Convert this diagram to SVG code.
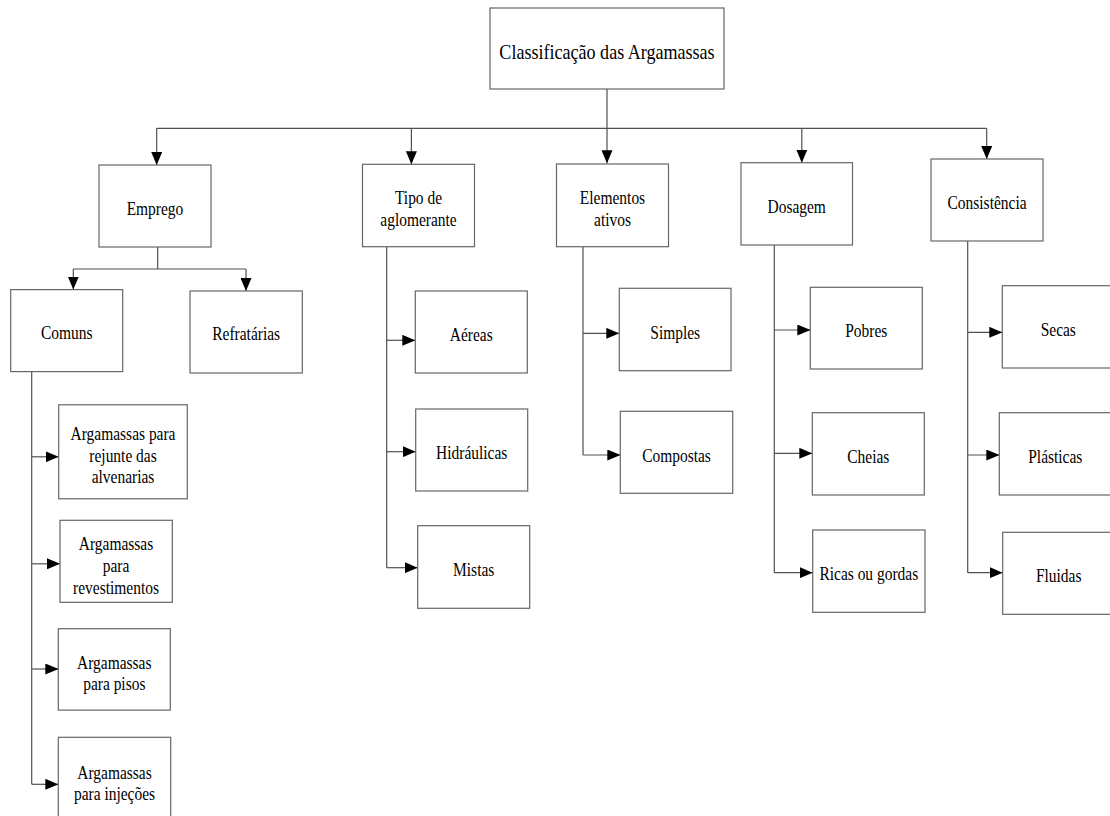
<svg xmlns="http://www.w3.org/2000/svg" width="1110" height="816" viewBox="0 0 1110 816">
  <style>
    .box { fill: #ffffff; stroke: #666666; stroke-width: 1.2; }
    .ln { fill: none; stroke: #505050; stroke-width: 1.2; }
    .t { font-family: "Liberation Serif", "Times New Roman", serif; font-size: 18px; fill: #000000; text-anchor: middle; dominant-baseline: central; transform-box: fill-box; transform-origin: center; transform: scaleX(0.86); }
    .root { font-size: 21px; }
  </style>
  <defs>
    <marker id="arrow" markerUnits="userSpaceOnUse" markerWidth="13" markerHeight="11" refX="13" refY="5.5" orient="auto">
      <path d="M0,0 L13,5.5 L0,11 z" fill="#000000"/>
    </marker>
  </defs>
  <rect width="1110" height="816" fill="#ffffff"/>

  <!-- connectors -->
  <g id="connectors" class="ln">
    <!-- root to first level -->
    <path d="M607,89 V163.3" marker-end="url(#arrow)"/>
    <path d="M156.7,128.3 H986.7"/>
    <path d="M156.7,128.3 V165" marker-end="url(#arrow)"/>
    <path d="M411.4,128.3 V164.3" marker-end="url(#arrow)"/>
    <path d="M801.8,128.3 V162.7" marker-end="url(#arrow)"/>
    <path d="M986.7,128.3 V159" marker-end="url(#arrow)"/>
    <!-- Emprego -->
    <path d="M157.7,247 V269"/>
    <path d="M73.3,269 H246"/>
    <path d="M73.3,269 V289.6" marker-end="url(#arrow)"/>
    <path d="M246,269 V291" marker-end="url(#arrow)"/>
    <!-- Comuns -->
    <path d="M31.7,371.6 V784.3"/>
    <path d="M31.7,456.8 H58.7" marker-end="url(#arrow)"/>
    <path d="M31.7,563.8 H60" marker-end="url(#arrow)"/>
    <path d="M31.7,669 H58.3" marker-end="url(#arrow)"/>
    <path d="M31.7,784.3 H58.3" marker-end="url(#arrow)"/>
    <!-- Tipo de aglomerante -->
    <path d="M386.7,246.7 V567.7"/>
    <path d="M386.7,340.3 H415.3" marker-end="url(#arrow)"/>
    <path d="M386.7,451.7 H415.7" marker-end="url(#arrow)"/>
    <path d="M386.7,567.7 H417.7" marker-end="url(#arrow)"/>
    <!-- Elementos ativos -->
    <path d="M583,246.7 V455"/>
    <path d="M583,333.3 H619.3" marker-end="url(#arrow)"/>
    <path d="M583,455 H620.3" marker-end="url(#arrow)"/>
    <!-- Dosagem -->
    <path d="M774.3,245 V572.7"/>
    <path d="M774.3,330 H810.3" marker-end="url(#arrow)"/>
    <path d="M774.3,453.3 H812.3" marker-end="url(#arrow)"/>
    <path d="M774.3,572.7 H812.7" marker-end="url(#arrow)"/>
    <!-- Consistência -->
    <path d="M967.7,241 V572.7"/>
    <path d="M967.7,332.3 H1002.3" marker-end="url(#arrow)"/>
    <path d="M967.7,455 H999.3" marker-end="url(#arrow)"/>
    <path d="M967.7,572.7 H1002.7" marker-end="url(#arrow)"/>
  </g>

  <!-- nodes -->
  <g id="root">
    <rect class="box" x="490" y="8" width="234" height="81"/>
    <text class="t root" x="607" y="52">Classificação das Argamassas</text>
  </g>

  <g id="emprego">
    <rect class="box" x="99" y="165" width="112" height="82"/>
    <text class="t" x="155" y="209">Emprego</text>
  </g>
  <g id="tipo">
    <rect class="box" x="362.5" y="164.3" width="112" height="82.4"/>
    <text class="t" x="418.5" y="209"><tspan x="418.5" y="198">Tipo de</tspan><tspan x="418.5" y="220">aglomerante</tspan></text>
  </g>
  <g id="elementos">
    <rect class="box" x="556.5" y="164" width="112" height="82.7"/>
    <text class="t" x="612.5" y="208"><tspan x="612.5" y="197.5">Elementos</tspan><tspan x="612.5" y="219.5">ativos</tspan></text>
  </g>
  <g id="dosagem">
    <rect class="box" x="741" y="162.7" width="111.5" height="82.3"/>
    <text class="t" x="796.7" y="207.5">Dosagem</text>
  </g>
  <g id="consistencia">
    <rect class="box" x="931" y="159" width="112" height="82"/>
    <text class="t" x="987" y="203.3">Consistência</text>
  </g>

  <g id="comuns">
    <rect class="box" x="10.7" y="289.6" width="112" height="82"/>
    <text class="t" x="66.7" y="333">Comuns</text>
  </g>
  <g id="refratarias">
    <rect class="box" x="190" y="291" width="112.3" height="82"/>
    <text class="t" x="246.2" y="334.5">Refratárias</text>
  </g>

  <g id="rejunte">
    <rect class="box" x="58.7" y="404.8" width="128.6" height="94"/>
    <text class="t" x="123" y="455"><tspan x="123" y="434">Argamassas para</tspan><tspan x="123" y="455.5">rejunte das</tspan><tspan x="123" y="477">alvenarias</tspan></text>
  </g>
  <g id="revestimentos">
    <rect class="box" x="60" y="520.3" width="112.3" height="82"/>
    <text class="t" x="116" y="565.5"><tspan x="116" y="543.5">Argamassas</tspan><tspan x="116" y="565.5">para</tspan><tspan x="116" y="587.5">revestimentos</tspan></text>
  </g>
  <g id="pisos">
    <rect class="box" x="58.3" y="628.7" width="112" height="81.4"/>
    <text class="t" x="114.3" y="673"><tspan x="114.3" y="662.5">Argamassas</tspan><tspan x="114.3" y="684">para pisos</tspan></text>
  </g>
  <g id="injecoes">
    <rect class="box" x="58.3" y="737.3" width="112.4" height="90"/>
    <text class="t" x="114.5" y="783"><tspan x="114.5" y="772.5">Argamassas</tspan><tspan x="114.5" y="794">para injeções</tspan></text>
  </g>

  <g id="aereas">
    <rect class="box" x="415.3" y="291" width="112" height="82"/>
    <text class="t" x="471.3" y="335.5">Aéreas</text>
  </g>
  <g id="hidraulicas">
    <rect class="box" x="415.7" y="409" width="112" height="82"/>
    <text class="t" x="471.7" y="453">Hidráulicas</text>
  </g>
  <g id="mistas">
    <rect class="box" x="417.7" y="525.7" width="112" height="82.6"/>
    <text class="t" x="473.7" y="570.5">Mistas</text>
  </g>

  <g id="simples">
    <rect class="box" x="619.3" y="288.3" width="111.7" height="82.4"/>
    <text class="t" x="675.2" y="333">Simples</text>
  </g>
  <g id="compostas">
    <rect class="box" x="620.3" y="411.3" width="112.4" height="82"/>
    <text class="t" x="676.5" y="456">Compostas</text>
  </g>

  <g id="pobres">
    <rect class="box" x="810.3" y="287.3" width="112" height="81.7"/>
    <text class="t" x="866.3" y="331.5">Pobres</text>
  </g>
  <g id="cheias">
    <rect class="box" x="812.3" y="412.7" width="112" height="82.3"/>
    <text class="t" x="868.3" y="457">Cheias</text>
  </g>
  <g id="ricas">
    <rect class="box" x="812.7" y="530" width="112.3" height="82.3"/>
    <text class="t" x="868.8" y="574.3">Ricas ou gordas</text>
  </g>

  <g id="secas">
    <rect class="box" x="1002.3" y="285.7" width="112" height="82.3"/>
    <text class="t" x="1058.3" y="330.5">Secas</text>
  </g>
  <g id="plasticas">
    <rect class="box" x="999.3" y="412.7" width="112" height="82.3"/>
    <text class="t" x="1055.3" y="457">Plásticas</text>
  </g>
  <g id="fluidas">
    <rect class="box" x="1002.7" y="532.3" width="112" height="82"/>
    <text class="t" x="1058.7" y="576">Fluidas</text>
  </g>
</svg>
